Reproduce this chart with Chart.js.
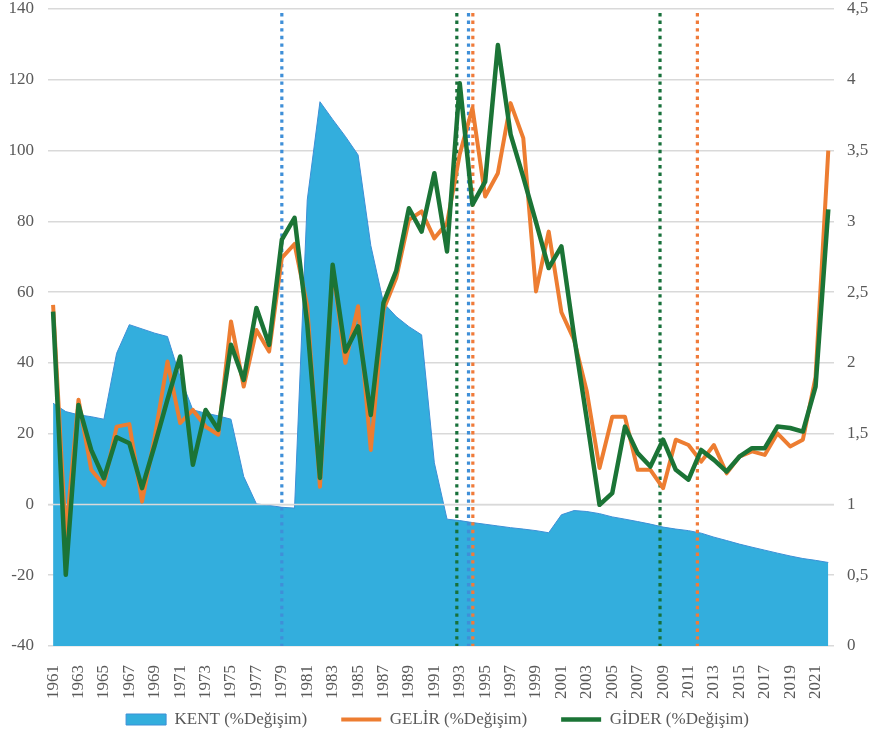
<!DOCTYPE html>
<html>
<head>
<meta charset="utf-8">
<script src="https://cdn.jsdelivr.net/npm/chart.js@4/dist/chart.umd.min.js"></script>
<style>
    html, body { margin: 0; padding: 0; background: #fff; }
    #wrap { width: 875px; height: 738px; }
</style>
</head>
<body>
<div id="wrap"><canvas id="chart" width="875" height="738"></canvas></div>
<script>
const years = [1961, 1962, 1963, 1964, 1965, 1966, 1967, 1968, 1969, 1970,
    1971, 1972, 1973, 1974, 1975, 1976, 1977, 1978, 1979, 1980,
    1981, 1982, 1983, 1984, 1985, 1986, 1987, 1988, 1989, 1990,
    1991, 1992, 1993, 1994, 1995, 1996, 1997, 1998, 1999, 2000,
    2001, 2002, 2003, 2004, 2005, 2006, 2007, 2008, 2009, 2010,
    2011, 2012, 2013, 2014, 2015, 2016, 2017, 2018, 2019, 2020,
    2021, 2022];

// KENT - right axis (0 - 4,5)
const kent = [1.715, 1.656, 1.633, 1.62, 1.602, 2.068, 2.27, 2.24, 2.21, 2.186,
    1.9, 1.668, 1.645, 1.626, 1.602, 1.197, 1.004, 0.993, 0.98, 0.974,
    3.151, 3.845, 3.72, 3.6, 3.469, 2.83, 2.424, 2.327, 2.256, 2.198,
    1.294, 0.896, 0.886, 0.872, 0.86, 0.848, 0.836, 0.826, 0.815, 0.80,
    0.927, 0.957, 0.95, 0.935, 0.912, 0.896, 0.879, 0.861, 0.84, 0.826,
    0.815, 0.797, 0.769, 0.745, 0.72, 0.698, 0.677, 0.656, 0.636, 0.618,
    0.605, 0.59];

// GELİR - left axis
const gelir = [56.4, -9, 29.6, 9.8, 5.5, 22, 22.7, 0.8, 19, 40.4,
    23, 26.7, 22, 19.7, 51.7, 33.3, 49.3, 43.2, 69.7, 73.6,
    56, 5, 67, 40, 56, 15.4, 55, 64, 80.4, 82.8,
    75.2, 79.5, 99, 112, 87, 93.6, 113.4, 103.5, 60.2, 77.1,
    54.3, 46.5, 31.9, 10.3, 24.8, 24.8, 9.8, 9.8, 4.6, 18.3,
    16.8, 12.1, 16.8, 8.8, 13.5, 15, 14, 20.1, 16.4, 18.3,
    36, 100];

// GİDER - left axis
const gider = [54.5, -19.9, 28.1, 15.4, 7.4, 19, 17.3, 4.6, 16.8, 29.6,
    41.8, 11.2, 26.7, 21.1, 45.1, 35.2, 55.5, 45.1, 74.8, 81,
    51, 7.5, 67.7, 43.2, 50.3, 25.3, 57, 66, 83.7, 77.1,
    93.6, 71.5, 119, 84.7, 91.2, 129.8, 104.6, 92.5, 79.8, 66.8,
    72.9, 47.5, 24, -0.1, 3.2, 22, 14.5, 10.7, 18.3, 9.8,
    7, 15.4, 12.6, 9.3, 13.5, 15.9, 15.9, 22, 21.6, 20.6,
    33.3, 83.4];

const tickYears = [1961, 1963, 1965, 1967, 1969, 1971, 1973, 1975, 1977, 1979,
    1981, 1983, 1985, 1987, 1989, 1991, 1993, 1995, 1997, 1999,
    2001, 2003, 2005, 2007, 2009, 2011, 2013, 2015, 2017, 2019, 2021];

const leftTicks = [-40, -20, 0, 20, 40, 60, 80, 100, 120, 140];
const rightTicks = [0, 0.5, 1, 1.5, 2, 2.5, 3, 3.5, 4, 4.5];

// break years (dotted verticals)
const breakYears = [1979, 1993, 1994, 1994, 2009, 2012];
const breakColors = ['#3f8fd8', '#17703a', '#3f8fd8', '#f07b3a', '#17703a', '#f07b3a'];
const breakShift = [0, -0.23, -0.31, 0.03, -0.24, -0.3];

const labelFont = { family: '"Liberation Serif", "Times New Roman", serif', size: 17 };
const textColor = '#595959';

function pts(values) {
    return years.map((y, i) => ({ x: y, y: values[i] }));
}

function noPadV(s) {
    s.paddingTop = 0;
    s.paddingBottom = 0;
}

const overlay = {
    id: 'overlay',
    afterDatasetDraw(chart, args) {
        if (args.index !== 0) return;
        const ctx = chart.ctx;
        const area = chart.chartArea;
        const x = chart.scales.x;
        const yl = chart.scales.y;
        ctx.save();
        // zero line over the area
        const y0 = yl.getPixelForValue(0);
        ctx.strokeStyle = '#d9d9d9';
        ctx.lineWidth = 1.5;
        ctx.beginPath();
        ctx.moveTo(area.left, y0);
        ctx.lineTo(area.right, y0);
        ctx.stroke();
        // dotted break lines
        ctx.lineWidth = 3.2;
        ctx.setLineDash([3.4, 4.2]);
        breakYears.forEach((yr, i) => {
            const px = x.getPixelForValue(yr + breakShift[i]);
            ctx.strokeStyle = breakColors[i];
            ctx.beginPath();
            ctx.moveTo(px, area.top + 4);
            ctx.lineTo(px, area.bottom);
            ctx.stroke();
        });
        ctx.restore();
    }
};

new Chart(document.getElementById('chart'), {
    type: 'line',
    data: {
        datasets: [
            {
                label: 'KENT (%Değişim)',
                data: pts(kent),
                yAxisID: 'y1',
                fill: 'start',
                backgroundColor: '#33aedd',
                borderColor: '#3d8fd6',
                borderWidth: 1,
                pointRadius: 0,
                pointStyle: 'rect',
                tension: 0,
                order: 3
            },
            {
                label: 'GELİR (%Değişim)',
                data: pts(gelir),
                yAxisID: 'y',
                fill: false,
                borderColor: '#ed7d31',
                backgroundColor: '#ed7d31',
                borderWidth: 4,
                pointRadius: 0,
                pointStyle: 'line',
                borderJoinStyle: 'round',
                tension: 0,
                order: 2
            },
            {
                label: 'GİDER (%Değişim)',
                data: pts(gider),
                yAxisID: 'y',
                fill: false,
                borderColor: '#1b7436',
                backgroundColor: '#1b7436',
                borderWidth: 4.5,
                pointRadius: 0,
                pointStyle: 'line',
                borderJoinStyle: 'round',
                tension: 0,
                order: 1
            }
        ]
    },
    options: {
        responsive: false,
        animation: false,
        layout: { padding: { top: 9, bottom: 0, left: 0, right: 0 } },
        plugins: {
            legend: {
                position: 'bottom',
                labels: {
                    usePointStyle: true,
                    pointStyleWidth: 40,
                    boxHeight: 11,
                    padding: 34,
                    color: textColor,
                    font: labelFont,
                    sort: (a, b) => a.datasetIndex - b.datasetIndex
                }
            },
            tooltip: { enabled: false }
        },
        scales: {
            x: {
                type: 'linear',
                min: 1960.6,
                max: 2022.45,
                afterBuildTicks: s => { s.ticks = tickYears.map(v => ({ value: v })); },
                afterFit: s => {
                    s.height = 31;
                    s.paddingLeft = 0;
                    s.paddingRight = 0;
                    // let the rotated year labels run past the short axis box
                    s._computeLabelArea = () => null;
                },
                grid: { display: false },
                border: { display: false },
                ticks: {
                    autoSkip: false,
                    minRotation: 90,
                    maxRotation: 90,
                    padding: 11,
                    color: textColor,
                    font: labelFont,
                    callback: v => String(v)
                }
            },
            y: {
                position: 'left',
                min: -40,
                max: 140,
                afterBuildTicks: s => { s.ticks = leftTicks.map(v => ({ value: v })); },
                afterFit: s => { s.width = 48; noPadV(s); },
                grid: { color: '#d9d9d9', lineWidth: 1.5, drawTicks: false },
                border: { display: false },
                ticks: { padding: 14, color: textColor, font: labelFont }
            },
            y1: {
                position: 'right',
                min: 0,
                max: 4.5,
                afterBuildTicks: s => { s.ticks = rightTicks.map(v => ({ value: v })); },
                afterFit: s => { s.width = 41; noPadV(s); },
                grid: { drawOnChartArea: false, drawTicks: false },
                border: { display: false },
                ticks: {
                    padding: 13,
                    color: textColor,
                    font: labelFont,
                    callback: v => String(v).replace('.', ',')
                }
            }
        }
    },
    plugins: [overlay]
});
</script>
</body>
</html>
